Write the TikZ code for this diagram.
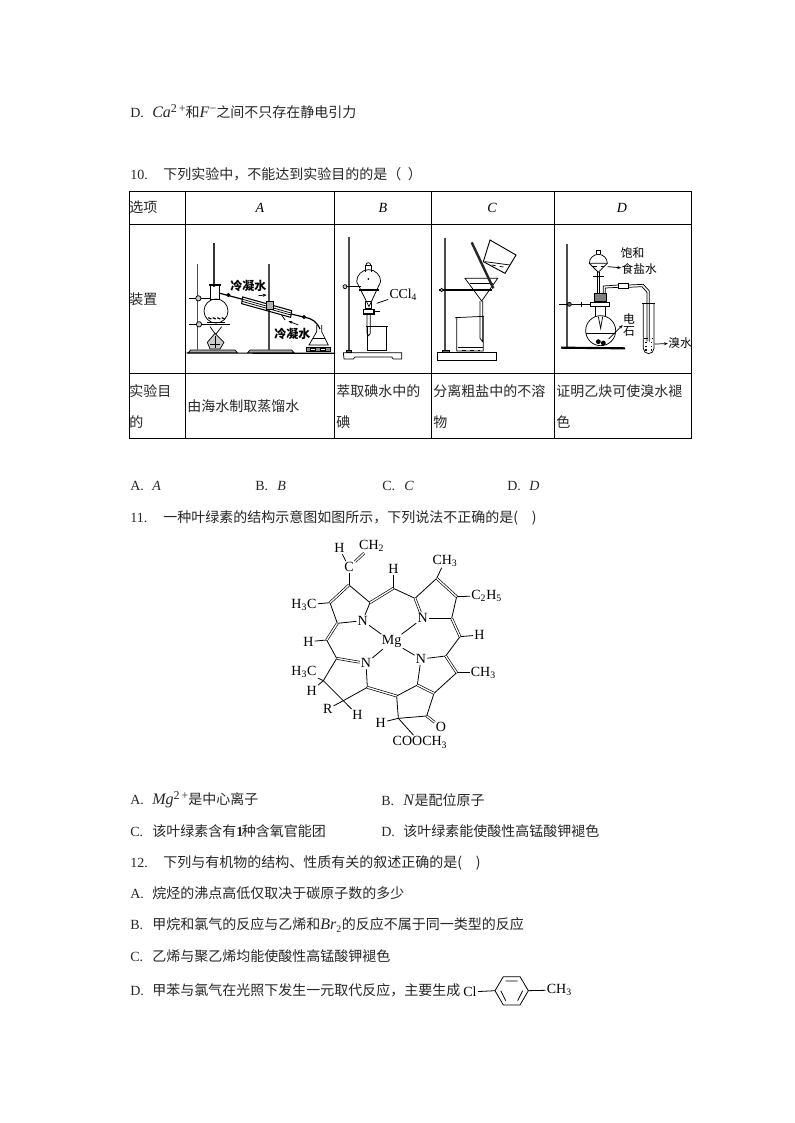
\documentclass[tikz,border=0pt]{standalone}
\usepackage{fontspec}
\setmainfont{Liberation Serif}
\newfontfamily\cjk{Noto Sans CJK SC}
\usetikzlibrary{arrows.meta}
\newcommand{\li}[1]{{\rmfamily\fontsize{12}{12}\selectfont\textit{#1}}}
\newcommand{\lis}[1]{{\rmfamily\textit{#1}}}
\newcommand{\supr}[1]{\raisebox{3.6pt}{\rmfamily\fontsize{9}{9}\selectfont #1}}
\newcommand{\opt}[1]{\makebox[16.5pt][l]{\rmfamily #1}}
\tikzset{
    txt/.style={anchor=west,inner sep=0pt,font=\fontsize{10.5}{12}\selectfont\cjk,text=black!85},
    cell/.style={anchor=center,inner sep=0pt,font=\fontsize{10.5}{12}\selectfont\itshape},
    atom/.style={inner sep=0.8pt,font=\fontsize{10.5}{12}\selectfont},
    lab/.style={inner sep=0pt,font=\fontsize{8.8}{10}\selectfont\cjk},
    bond/.style={line width=0.6pt},
    dbl/.style={double,double distance=1pt,line width=0.5pt},
    app/.style={line width=0.55pt},
    rod/.style={line width=1.1pt,black!70},
}
\begin{document}
\begin{tikzpicture}[x=0.75pt,y=-0.75pt]
    \useasboundingbox (0,0) rectangle (794,1123);
    % lines of text
    \node[txt] (d9) at (130,112) {\opt{D.}\li{Ca}\supr{2\,+}和\li{F}\supr{−}之间不只存在静电引力};
    \node[txt] (q10) at (130,174) {\makebox[24.75pt][l]{\rmfamily 10.}下列实验中，不能达到实验目的的是（\hspace{5pt}）};
    \node[txt] (oa) at (130,486) {\opt{A.}\lis{A}};
    \node[txt] (ob) at (255,486) {\opt{B.}\lis{B}};
    \node[txt] (oc) at (382,486) {\opt{C.}\lis{C}};
    \node[txt] (od) at (507,486) {\opt{D.}\lis{D}};
    \node[txt] (q11) at (130,518) {\makebox[24.75pt][l]{\rmfamily 11.}一种叶绿素的结构示意图如图所示，下列说法不正确的是(\hspace{10.5pt})};
    \node[txt] (a11) at (130,800) {\opt{A.}\li{Mg}\supr{2\,+}是中心离子};
    \node[txt] (b11) at (381,800) {\opt{B.}\li{N}是配位原子};
    \node[txt] (c11) at (130,831) {\opt{C.}该叶绿素含有\rmfamily\textbf{1}\hspace{-1pt}\cjk 种含氧官能团};
    \node[txt] (d11) at (381,831) {\opt{D.}该叶绿素能使酸性高锰酸钾褪色};
    \node[txt] (q12) at (130,863) {\makebox[24.75pt][l]{\rmfamily 12.}下列与有机物的结构、性质有关的叙述正确的是(\hspace{10.5pt})};
    \node[txt] (a12) at (130,893) {\opt{A.}烷烃的沸点高低仅取决于碳原子数的多少};
    \node[txt] (b12) at (130,925) {\opt{B.}甲烷和氯气的反应与乙烯和\li{Br}{\rmfamily\textsubscript{2}}的反应不属于同一类型的反应};
    \node[txt] (c12) at (130,956) {\opt{C.}乙烯与聚乙烯均能使酸性高锰酸钾褪色};
    \node[txt] (d12) at (130,990) {\opt{D.}甲苯与氯气在光照下发生一元取代反应，主要生成};

    % table
    \draw[line width=0.6pt] (129,191) rectangle (691,438);
    \foreach \x in {185,334,431,554} {
        \draw[line width=0.6pt] (\x,191) -- (\x,438);
    }
    \foreach \y in {224,373} {
        \draw[line width=0.6pt] (129,\y) -- (691,\y);
    }
    \node[txt] (t1) at (129,207) {选项};
    \node[cell] (ta) at (260,208) {A};
    \node[cell] (tb) at (383,208) {B};
    \node[cell] (tc) at (492,208) {C};
    \node[cell] (td) at (622,208) {D};
    \node[txt] (t2) at (129,299) {装置};
    \node[txt] (t3) at (129,391) {实验目};
    \node[txt] (t3b) at (129,422) {的};
    \node[txt] (ga) at (187,406) {由海水制取蒸馏水};
    \node[txt] (gb) at (336,391) {萃取碘水中的};
    \node[txt] (gb2) at (336,422) {碘};
    \node[txt] (gc) at (433,391) {分离粗盐中的不溶};
    \node[txt] (gc2) at (433,422) {物};
    \node[txt] (gd) at (556,391) {证明乙炔可使溴水褪};
    \node[txt] (gd2) at (556,422) {色};

    % apparatus A and B
    \begin{scope}[shift={(120,185)},x=0.25pt,y=-0.25pt,app]
        \draw[line width=0.9pt] (200,504) -- (645,505);
        \draw[fill=black!35] (205,503) -- (212,495) -- (345,495) -- (352,503) -- cycle;
        \draw[fill=black!35] (383,503) -- (390,495) -- (515,495) -- (522,503) -- cycle;
        \draw[rod] (232,237) -- (232,495);
        \draw[rod] (447,237) -- (447,495);
        \draw[line width=1.2pt,black!80] (282,175) -- (282,305);
        \draw[line width=0.9pt] (208,340) -- (272,340);
        \draw[line width=0.8pt] (208,418) -- (330,418);
        \draw[fill=black!20] (235,340) circle (8);
        \draw[fill=black!20] (237,418) circle (8);
        \draw (272,300) rectangle (298,342);
        \draw[line width=0.8pt] (268,300) -- (302,300);
        \draw (288,378) circle (36);
        \foreach \x in {265,278,292,305} {
            \draw[line width=0.9pt] (\x,398) -- ++(9,4);
        }
        \draw[line width=0.8pt] (262,412) -- (315,412);
        \draw (270,425) -- (302,470) (305,425) -- (270,470);
        \draw[fill=black!20] (262,472) -- (285,445) -- (312,472) -- (300,492) -- (270,492) -- cycle;
        \draw (285,452) -- (285,490) (270,478) -- (300,478);
        % condenser
        \draw[line width=0.9pt] (300,325) -- (368,343);
        \draw[line width=0.8pt] (368,336) -- (515,377) -- (512,397) -- (365,356) -- cycle;
        \draw (368,343) -- (513,384) (366,349) -- (513,390);
        \draw[fill=black!30] (440,350) rectangle (460,372);
        \draw[line width=0.9pt] (513,387) -- (555,397) .. controls (575,400) and (590,410) .. (600,432);
        \draw[fill=black] (325,330) circle (5);
        \draw[fill=black] (552,396) circle (5);
        \draw (485,390) -- (495,405);
        \draw[-{Stealth[length=3pt]}] (415,332) -- (440,330);
        \draw[-{Stealth[length=3pt]}] (535,420) -- (505,408);
        \node[lab,font=\fontsize{9}{10}\selectfont\cjk\bfseries] (wa) at (385,302) {冷凝水};
        \node[lab,font=\fontsize{9}{10}\selectfont\cjk\bfseries] (wb) at (517,447) {冷凝水};
        % receiver
        \draw (590,420) -- (590,440) -- (567,480) -- (625,480) -- (605,440) -- (605,420);
        \draw (578,460) -- (615,460);
        \draw[fill=black!45] (558,488) rectangle (630,500);
        \draw[fill=white] (570,491) rectangle (585,497) (600,491) rectangle (615,497);
        % B
        \draw[rod,line width=1.5pt] (686,155) -- (686,497);
        \draw (670,503) -- (845,503) -- (845,522) -- (820,522) -- (815,516) -- (705,516) -- (700,522) -- (672,522) -- cycle;
        \draw[fill=black!60] (678,497) rectangle (694,503);
        \draw (735,260) -- (735,240) -- (755,240) -- (755,260);
        \draw (738,240) arc (180:360:7);
        \draw (710,290) arc (180:360:36) -- (747,365) -- cycle;
        \draw[line width=0.9pt] (668,305) -- (722,305) (718,315) -- (776,315);
        \draw[fill=black!20] (675,305) circle (6);
        \fill (745,282) circle (3);
        \draw (735,350) rectangle (755,370);
        \draw[line width=0.9pt] (730,374) rectangle (762,387);
        \draw (762,380) -- (780,380);
        \draw (741,387) -- (741,445) -- (746,452) -- (751,445) -- (751,387);
        \draw (738,423) -- (805,423) (742,423) -- (742,497) -- (800,497) -- (800,423);
        \coordinate (ccl) at (770,355);
        \node[atom,font=\fontsize{10.3}{12}\selectfont] (cclt) at (850,328) {CCl\textsubscript{4}};
        \draw (ccl) -- (cclt);
    \end{scope}

    % apparatus C and D
    \begin{scope}[shift={(430,185)},x=0.25pt,y=-0.25pt,app]
        \draw[rod,line width=1.5pt] (46,158) -- (46,497);
        \draw (22,503) -- (200,503) -- (200,525) -- (22,525) -- cycle;
        \draw[fill=black!60] (36,497) rectangle (58,503);
        \draw[line width=1.3pt] (28,315) -- (185,315);
        \draw[fill=black!20] (35,315) circle (5);
        \draw (105,280) -- (203,280) -- (155,348) -- cycle;
        \draw (120,296) -- (190,296);
        \draw (150,348) -- (150,460) -- (158,470) -- (158,348);
        \draw (75,398) -- (162,394) (80,398) -- (80,498) -- (160,498) -- (160,394);
        \draw[line width=0.9pt] (85,487) -- (160,487);
        \draw[dashed] (95,495) -- (150,495);
        \draw[line width=1.8pt,black!85] (125,172) -- (190,310);
        \draw[line width=0.7pt] (180,165) -- (258,210) -- (225,265) -- (160,230) -- cycle;
        \draw (165,230) -- (240,240);
        \draw[dashed] (185,240) -- (232,248);
        % D
        \draw[rod,line width=1.3pt] (411,177) -- (411,485);
        \draw[line width=1.6pt] (393,488) -- (585,490);
        \draw[line width=0.9pt] (388,358) -- (480,358);
        \draw[fill=black!60] (418,358) circle (6);
        \draw[line width=1.2pt] (455,350) -- (455,366);
        \draw (497,395) -- (497,365) (525,365) -- (525,395);
        \draw (512,437) circle (45);
        \draw (468,445) -- (556,445);
        \draw[fill=black] (505,470) circle (6) (520,474) circle (6);
        \draw[fill=white] (480,353) rectangle (537,365);
        \draw[fill=black!50] (493,325) rectangle (530,350);
        \draw (505,395) -- (512,430) -- (518,395);
        \draw (478,235) arc (180:360:27) -- cycle;
        \draw (505,262) -- (478,235);
        \draw (505,262) -- (532,235);
        \draw[dashed] (488,245) -- (522,245);
        \draw (498,208) -- (498,195) -- (512,195) -- (512,208);
        \draw[line width=0.9pt] (490,275) -- (522,275);
        \draw (502,262) -- (502,325) (509,262) -- (509,325);
        \draw (520,325) -- (520,303) -- (565,300) (526,325) -- (526,309) -- (565,307);
        \draw (565,296) rectangle (595,310);
        \draw (595,300) -- (640,298) -- (658,318) -- (658,470) (595,307) -- (636,305) -- (651,322) -- (651,470);
        \draw (640,355) -- (640,490) arc (180:0:16) -- (672,355);
        \draw[line width=0.9pt] (637,355) -- (675,355);
        \draw[dashed] (642,460) -- (670,460);
        \draw[dotted,line width=0.9pt] (648,470) -- (648,500) (664,470) -- (664,500);
        \coordinate (tipa) at (533,245);
        \coordinate (tipb) at (536,462);
        \coordinate (tipd) at (578,420);
        \coordinate (tipc) at (674,477);
        \node[lab] (bh) at (608,205) {饱和};
        \node[lab] (sy) at (628,253) {食盐水};
        \node[lab] (dian) at (597,403) {电};
        \node[lab] (shi) at (597,438) {石};
        \node[lab] (xs) at (750,475) {溴水};
        \draw[-{Stealth[length=3pt]}] (tipa) -- (sy);
        \draw[-{Stealth[length=3pt]}] (tipb) -- (tipd);
        \draw[-{Stealth[length=3pt]}] (tipc) -- (xs);
    \end{scope}

    % chlorophyll
    \begin{scope}[shift={(280,530)},x=0.25pt,y=-0.25pt]
        \foreach \n/\p in {a/{207,165},b/{150,218},c/{172,280},d/{270,218},e/{340,175},f/{405,205},g/{470,145},h/{530,200},i/{515,265},j/{540,320},k/{497,378},l/{530,428},m/{462,490},o/{412,465},p/{440,558},q/{355,565},r/{350,498},s/{262,472},t/{190,512},u/{130,452},v/{170,385},w/{140,330}} {
            \coordinate (\n) at (\p);
        }
        \node[atom] (H1) at (178,55) {H};
        \node[atom] (CH2) at (275,48) {CH\textsubscript{2}};
        \node[atom] (C1) at (207,112) {C};
        \node[atom] (H2) at (340,118) {H};
        \node[atom] (CH3a) at (495,92) {CH\textsubscript{3}};
        \node[atom] (H3Ca) at (72,225) {H\textsubscript{3}C};
        \node[atom] (C2H5) at (620,197) {C\textsubscript{2}H\textsubscript{5}};
        \node[atom] (N1) at (248,272) {N};
        \node[atom] (N2) at (428,265) {N};
        \node[atom] (H3) at (85,335) {H};
        \node[atom] (Mg) at (335,335) {Mg};
        \node[atom] (H4) at (598,315) {H};
        \node[atom] (N3) at (258,400) {N};
        \node[atom] (N4) at (423,387) {N};
        \node[atom] (H3Cb) at (72,425) {H\textsubscript{3}C};
        \node[atom] (CH3b) at (610,428) {CH\textsubscript{3}};
        \node[atom] (H5) at (95,482) {H};
        \node[atom] (R) at (143,537) {R};
        \node[atom] (H6) at (232,555) {H};
        \node[atom] (H7) at (302,578) {H};
        \node[atom] (O1) at (483,592) {O};
        \node[atom] (COO) at (420,637) {COOCH\textsubscript{3}};
        \foreach \a/\b in {C1/H1,C1/a,a/d,b/H3Ca,b/c,c/N1,w/H3,w/v,v/u,u/H3Cb,u/H5,u/t,t/R,t/H6,t/s,s/N3,r/o,r/q,q/H7,q/COO,q/p,p/m,o/N4,m/l,l/CH3b,k/N4,k/j,j/H4,i/N2,i/h,h/C2H5,g/f,g/CH3a,f/e,e/H2,d/N1,N1/Mg,N2/Mg,N3/Mg,N4/Mg} {
            \draw[bond] (\a) -- (\b);
        }
        \foreach \a/\b in {C1/CH2,a/b,c/w,v/N3,s/r,p/O1,m/o,l/k,j/i,h/g,f/N2,e/d} {
            \draw[dbl] (\a) -- (\b);
        }
    \end{scope}

    % p-chlorotoluene
    \begin{scope}[shift={(120,780)},x=0.25pt,y=-0.25pt]
        \node[atom] (Cl) at (1050,636) {Cl};
        \node[atom] (CH3c) at (1318,630) {CH\textsubscript{3}};
        \foreach \n/\p in {r1/{1125,632},r2/{1150,590},r3/{1200,590},r4/{1225,632},r5/{1200,675},r6/{1150,675}} {
            \coordinate (\n) at (\p);
        }
        \draw[bond] (r1) -- (r2) -- (r3) -- (r4) -- (r5) -- (r6) -- cycle;
        \draw[bond] (1157,603) -- (1193,603) (1208,632) -- (1193,662) (1157,662) -- (1142,632);
        \draw[bond] (Cl) -- (r1);
        \draw[bond] (r4) -- (CH3c);
    \end{scope}
\end{tikzpicture}
\end{document}
